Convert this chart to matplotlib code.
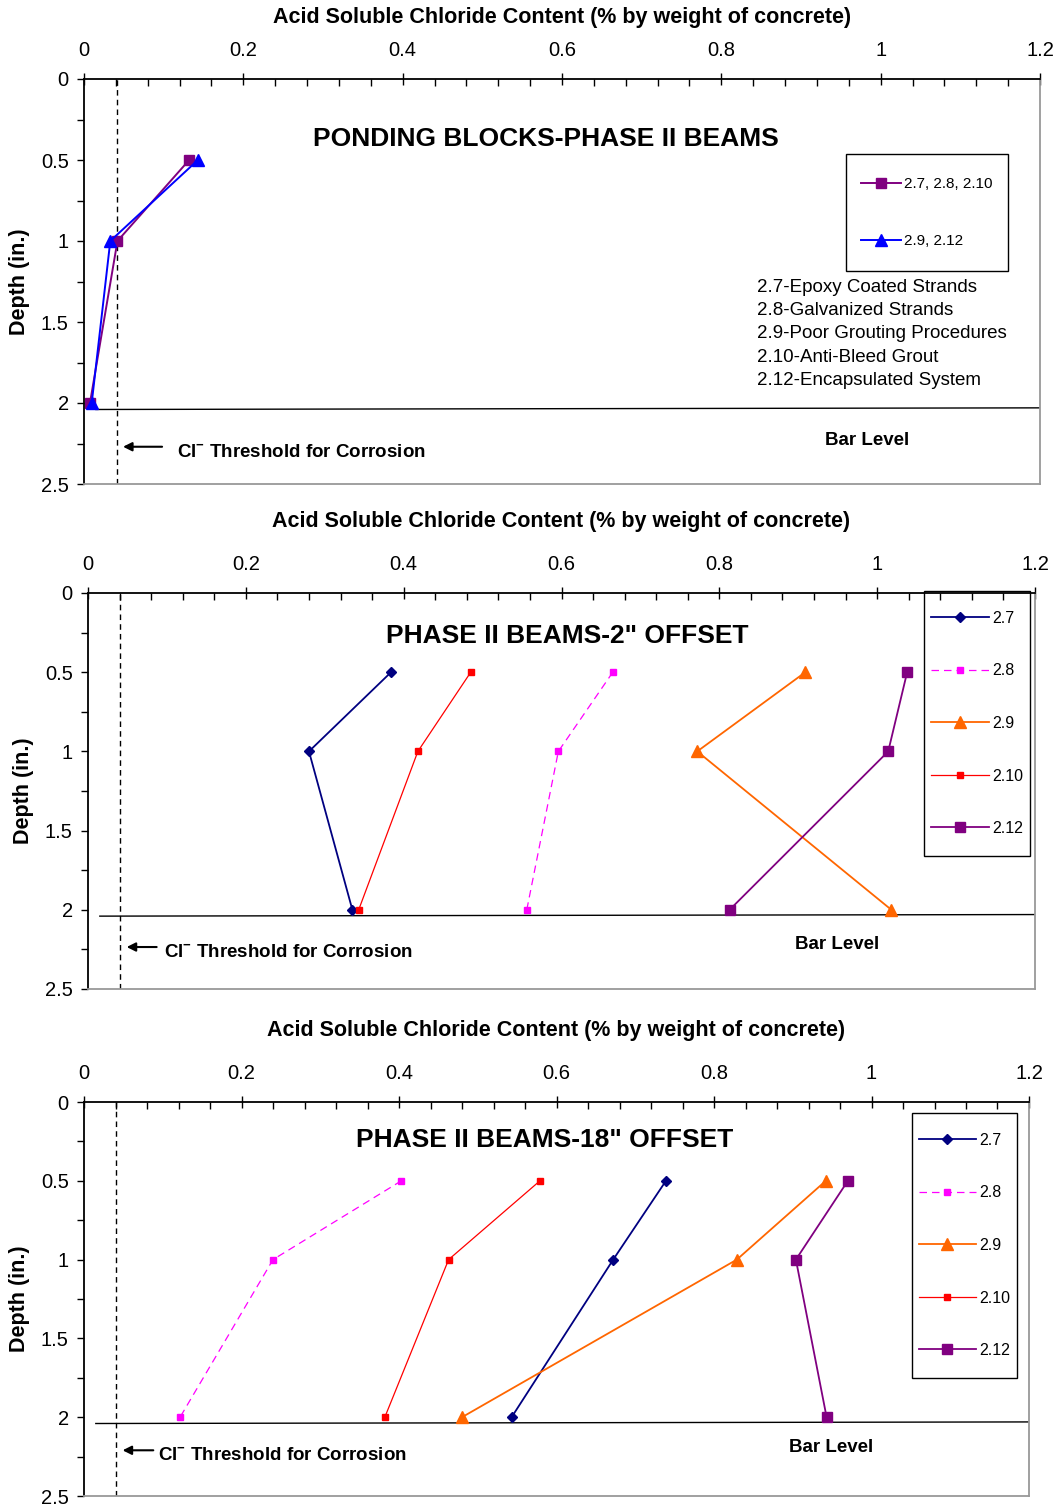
import numpy as np
import matplotlib.pyplot as plt
from matplotlib.patches import Rectangle
from matplotlib.ticker import MultipleLocator, FuncFormatter

plt.rcParams['font.family'] = ['Liberation Sans', 'DejaVu Sans']
plt.rcParams['mathtext.fontset'] = 'custom'
plt.rcParams['mathtext.rm'] = 'Liberation Sans'
plt.rcParams['mathtext.bf'] = 'Liberation Sans:bold'

# ---- data ----
depth = [0.5, 1.0, 2.0]

# ponding blocks
pond_sq = [0.132, 0.042, 0.0075]    # 2.7, 2.8, 2.10
pond_tri = [0.143, 0.033, 0.0097]   # 2.9, 2.12

# phase II beams, 2" offset
off2 = {
    '2.7': [0.384, 0.280, 0.335],
    '2.8': [0.665, 0.596, 0.556],
    '2.9': [0.909, 0.772, 1.018],
    '2.10': [0.485, 0.418, 0.343],
    '2.12': [1.038, 1.014, 0.813],
}
# phase II beams, 18" offset
off18 = {
    '2.7': [0.739, 0.672, 0.543],
    '2.8': [0.403, 0.240, 0.122],
    '2.9': [0.942, 0.829, 0.480],
    '2.10': [0.579, 0.463, 0.382],
    '2.12': [0.970, 0.904, 0.943],
}

threshold = 0.041
bar_level = 2.03

styles = {
    '2.7': dict(color='#000080', marker='D', ms=5.5, lw=1.3, ls='-'),
    '2.8': dict(color='#FF00FF', marker='s', ms=5, lw=0.9, ls=(0, (6, 4))),
    '2.9': dict(color='#FF6600', marker='^', ms=8, lw=1.3, ls='-'),
    '2.10': dict(color='#FF0000', marker='s', ms=5, lw=0.9, ls='-'),
    '2.12': dict(color='#800080', marker='s', ms=7.5, lw=1.3, ls='-'),
}

W, H = 1062, 1511
fig = plt.figure(figsize=(W / 100, H / 100), dpi=100)


def make_ax(left, right, top, bottom, xpad):
    ax = fig.add_axes([left / W, 1 - bottom / H, (right - left) / W, (bottom - top) / H])
    ax.set_xlim(0, 1.2)
    ax.set_ylim(2.5, 0)
    ax.xaxis.tick_top()
    ax.xaxis.set_label_position('top')
    ax.xaxis.set_major_locator(MultipleLocator(0.2))
    ax.xaxis.set_minor_locator(MultipleLocator(0.04))
    ax.yaxis.set_major_locator(MultipleLocator(0.5))
    ax.yaxis.set_minor_locator(MultipleLocator(0.25))
    fmt = FuncFormatter(lambda v, p: ('%g' % round(v, 2)))
    ax.xaxis.set_major_formatter(fmt)
    ax.yaxis.set_major_formatter(fmt)
    ax.tick_params(axis='x', which='major', direction='inout', length=9, width=1, labelsize=14.5, pad=9.5)
    ax.tick_params(axis='x', which='minor', direction='in', length=5, width=1)
    ax.tick_params(axis='y', which='both', direction='out', length=5, width=1, labelsize=14.5, pad=6)
    for s in ['bottom', 'right']:
        ax.spines[s].set_color('#999999')
        ax.spines[s].set_linewidth(1.3)
    for s in ['top', 'left']:
        ax.spines[s].set_color('black')
        ax.spines[s].set_linewidth(1.3)
    ax.set_xlabel('Acid Soluble Chloride Content (% by weight of concrete)',
                  fontsize=15.5, fontweight='bold', labelpad=xpad)
    ax.set_ylabel('Depth (in.)', fontsize=15.5, fontweight='bold', labelpad=8)
    ax.axvline(threshold, color='black', ls=(0, (4, 3)), lw=1)
    ax.plot([0.015, 1.2], [bar_level + 0.01, bar_level - 0.0], color='black', lw=1)
    return ax


def threshold_note(ax, x_arrow, x_text, y):
    ax.annotate('', xy=(threshold + 0.008, y), xytext=(x_arrow, y),
                arrowprops=dict(arrowstyle='-|>', color='black', lw=1.5, mutation_scale=13,
                                shrinkA=0, shrinkB=0))
    ax.text(x_text, y + 0.04, r'Cl$^{\mathbf{-}}$ Threshold for Corrosion', fontsize=13.5,
            fontweight='bold', va='center', ha='left')


def boxed_legend(ax, x0, y0, x1, y1, fontsize, spacing, hlen):
    # frame drawn in figure pixels, legend centred inside it
    fig.patches.append(Rectangle((x0 / W, 1 - y1 / H), (x1 - x0) / W, (y1 - y0) / H,
                                 transform=fig.transFigure, fill=False,
                                 edgecolor='black', lw=1, zorder=5))
    ax.legend(loc='center', bbox_to_anchor=((x0 + x1) / 2 / W, 1 - (y0 + y1) / 2 / H),
              bbox_transform=fig.transFigure, fontsize=fontsize, frameon=False,
              labelspacing=spacing, handlelength=hlen, handletextpad=0.2, borderpad=0)


# ---- panel 1 ----
ax1 = make_ax(84, 1040, 79, 484, 12.5)
ax1.plot(pond_sq, depth, color='#800080', marker='s', ms=7.5, lw=1.4, label='2.7, 2.8, 2.10')
ax1.plot(pond_tri, depth, color='#0000FF', marker='^', ms=8, lw=1.4, label='2.9, 2.12')
ax1.text(0.58, 0.37, 'PONDING BLOCKS-PHASE II BEAMS', fontsize=19, fontweight='bold',
         ha='center', va='center')
ax1.text(0.983, 2.23, 'Bar Level', fontsize=13.5, fontweight='bold', ha='center', va='center')
threshold_note(ax1, 0.098, 0.117, 2.27)
boxed_legend(ax1, 846, 154, 1008, 271, 11, 2.8, 2.6)
desc = ['2.7-Epoxy Coated Strands', '2.8-Galvanized Strands', '2.9-Poor Grouting Procedures',
        '2.10-Anti-Bleed Grout', '2.12-Encapsulated System']
for i, line in enumerate(desc):
    ax1.text((757 - 84) / 796.7, (287 - 79) / 162 + i * 0.145, line, fontsize=13.5,
             ha='left', va='center')


def beams_panel(ax, data, title, tx, ty, leg_box, bar_xy, note):
    for k in ['2.7', '2.8', '2.9', '2.10', '2.12']:
        st = styles[k]
        ax.plot(data[k], depth, color=st['color'], marker=st['marker'], ms=st['ms'],
                lw=st['lw'], ls=st['ls'], label=k)
    ax.text(tx, ty, title, fontsize=19, fontweight='bold', ha='center', va='center')
    ax.text(bar_xy[0], bar_xy[1], 'Bar Level', fontsize=13.5, fontweight='bold',
            ha='center', va='center')
    threshold_note(ax, *note)
    boxed_legend(ax, *leg_box, 11.5, 2.35, 3.6)


ax2 = make_ax(88, 1035, 593, 989, 20)
beams_panel(ax2, off2, 'PHASE II BEAMS-2" OFFSET', 0.607, 0.27,
            (924, 591, 1030, 856), (0.949, 2.22), (0.087, 0.096, 2.235))

ax3 = make_ax(84, 1029, 1102, 1496, 20)
beams_panel(ax3, off18, 'PHASE II BEAMS-18" OFFSET', 0.585, 0.24,
            (912, 1113, 1017, 1378), (0.949, 2.195), (0.088, 0.094, 2.21))

fig.savefig('out.png', dpi=100, facecolor='white')
